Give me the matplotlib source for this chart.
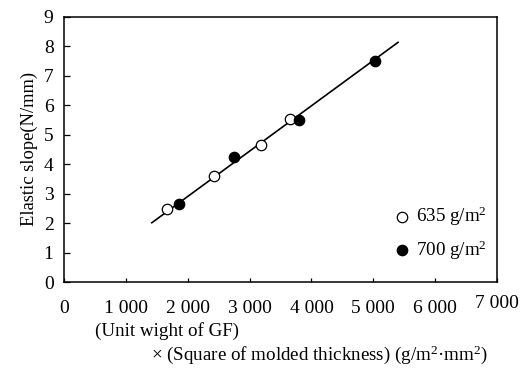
import numpy as np
import matplotlib
matplotlib.use("Agg")
import matplotlib.pyplot as plt
import matplotlib.transforms as mtransforms

plt.rcParams["font.family"] = ["Liberation Serif", "DejaVu Serif"]
plt.rcParams["mathtext.fontset"] = "custom"
plt.rcParams["mathtext.rm"] = "Liberation Serif"
plt.rcParams["mathtext.it"] = "Liberation Serif:italic"

# data
x_635 = [1670, 2430, 3180, 3655]
y_635 = [2.49, 3.60, 4.66, 5.53]
x_700 = [1860, 2745, 3800, 5035]
y_700 = [2.66, 4.23, 5.51, 7.51]
fit_x = [1420, 5400]
fit_y = [2.01, 8.13]
xticks = [0, 1000, 2000, 3000, 4000, 5000, 6000, 7000]
xticklabels = ["0", "1 000", "2 000", "3 000", "4 000", "5 000", "6 000", "7 000"]
yticks = list(range(10))

TICK_FS = 14
FS = 13.7

fig = plt.figure(figsize=(5.25, 3.7), dpi=100)
ax = fig.add_axes([0.1219, 0.2378, 0.8248, 0.7171])

ax.plot(fit_x, fit_y, color="black", lw=1.2, zorder=2)
ax.plot(x_635, y_635, "o", ms=7.5, mfc="white", mec="black", mew=0.9, zorder=3)
ax.plot(x_700, y_700, "o", ms=7.5, mfc="black", mec="black", mew=0.9, zorder=3)

ax.set_xlim(0, 7000)
ax.set_ylim(0, 9)
ax.set_xticks(xticks)
ax.set_xticklabels(xticklabels)
ax.set_yticks(yticks)
ax.tick_params(axis="x", direction="in", length=3, width=0.9, pad=13, labelsize=TICK_FS)
ax.tick_params(axis="y", direction="in", length=4, width=0.9, pad=7.5, labelsize=TICK_FS)
for s in ax.spines.values():
    s.set_linewidth(1.1)

# last x label sits a bit higher in the original
lab = ax.get_xticklabels()[-1]
lab.set_transform(lab.get_transform() + mtransforms.ScaledTranslation(0, 4 / 72, fig.dpi_scale_trans))

ax.set_ylabel("Elastic slope(N/mm)", fontsize=13.3, labelpad=4)

# legend drawn as markers + text inside the axes
ax.plot([5460], [2.22], "o", ms=7.5, mfc="white", mec="black", mew=0.9)
ax.text(5690, 2.22, r"635 g/m$^2$", fontsize=FS, va="center")
ax.plot([5460], [1.08], "o", ms=7.5, mfc="black", mec="black", mew=0.9)
ax.text(5690, 1.08, r"700 g/m$^2$", fontsize=FS, va="center")

fig.text(95 / 525, 1 - 331 / 370, "(Unit wight of GF)", fontsize=FS, va="center")
fig.text(151 / 525, 1 - 355 / 370, r"× (Square of molded thickness) (g/m$^2$·mm$^2$)",
         fontsize=FS, va="center")

fig.savefig("out.png", dpi=100)
